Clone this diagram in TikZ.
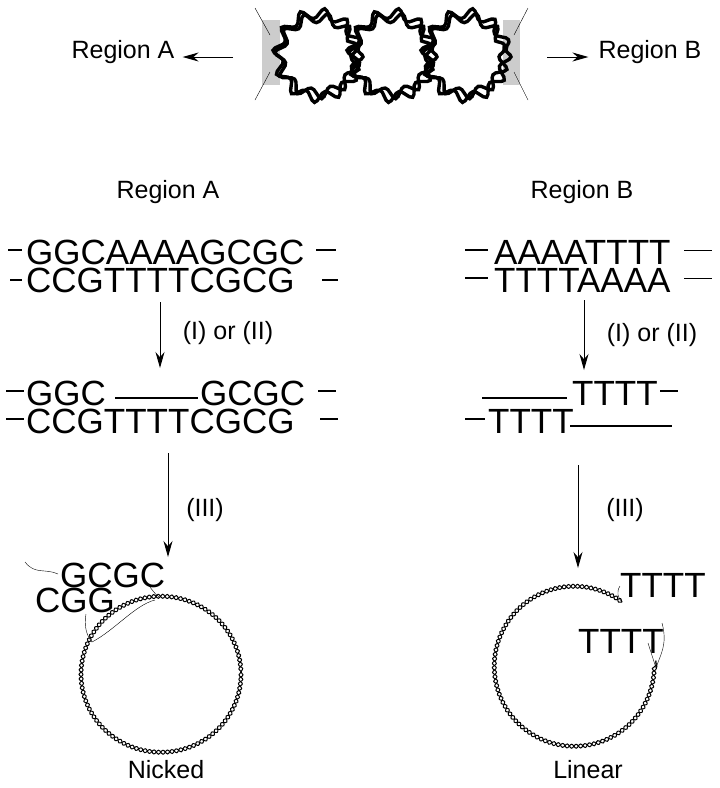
\documentclass[tikz,border=0pt]{standalone}
\usepackage{fontspec}
\setmainfont{Liberation Sans}
\usetikzlibrary{arrows.meta,decorations.pathmorphing,positioning}
\tikzset{
  seq/.style={font=\fontsize{35}{35}\selectfont, inner sep=0pt, anchor=base west},
  lbl/.style={font=\fontsize{25}{25}\selectfont, inner sep=0pt},
  cut/.style={-{Stealth[length=16pt,width=9pt]}, line width=1pt},
  strand/.style={line width=1.2pt},
  helix/.style={decorate, decoration={snake, segment length=9pt, amplitude=2pt}, line width=1pt},
  loop/.style={decorate, decoration={snake, segment length=22pt, amplitude=5pt}, line width=3.4pt}
}
\begin{document}
\begin{tikzpicture}[x=1pt,y=-1pt]
\useasboundingbox (0,0) rectangle (720,788);

% supercoiled plasmid
\fill[gray!40] (262,20) rectangle (280,85);
\fill[gray!40] (503,20) rectangle (520,85);
\draw[thin] (255,8) -- (270,35) (255,100) -- (270,72) (528,8) -- (514,35) (528,100) -- (514,72);
\foreach \cx in {318,392,466} {
  \draw[loop] (\cx,50) ellipse (40 and 42);
  \draw[loop, decoration={mirror}] (\cx,50) ellipse (38 and 38);
}
\node[lbl] (regA) at (123,52) {Region A};
\node[lbl] (regB) at (650,52) {Region B};
\coordinate (aS) at (233,57); \coordinate (bS) at (547,57);
\draw[cut] (aS) -- ([xshift=8pt]regA.east |- aS);
\draw[cut] (bS) -- ([xshift=-10pt]regB.west |- bS);

% region A
\node[lbl] (headA) at (168,192) {Region A};
\node[seq] (a1) at (26,264) {GGCAAAAGCGC};
\node[seq] (a2) at (26,292) {CCGTTTTCGCG};
\draw[strand] (8,250) -- (22,250) (316,250) -- (336,250)
              (10,280) -- (22,280) (322,280) -- (338,280);
\draw[cut] (160,302) coordinate (a0) -- (160,368) coordinate (a3);
\node[lbl] (stepA1) at (228,333) {(I) or (II)};
\node[seq] (b1) at (26,405) {GGC};
\node[seq] (b2) at (200,405) {GCGC};
\draw[strand] (6,391) -- (24,391) (115,398) -- (198,398) (318,391) -- (336,391);
\node[seq] (b3) at (26,433) {CCGTTTTCGCG};
\draw[strand] (6,419) -- (24,419) (320,419) -- (338,419);
\draw[cut] (168,453) coordinate (b0) -- (168,557);
\node[lbl] (stepA2) at (205,510) {(III)};

\draw[helix] (161,672) ellipse (80 and 78);
\draw[helix, decoration={mirror}] (161,672) ellipse (80 and 78);
\node[seq] (gcgc) at (60,587) {GCGC};
\node[seq] (cgg) at (35,612) {CGG};
\draw[thin] (25,562) .. controls (35,575) and (45,568) .. (58,574);
\draw[thin] (148,584) .. controls (152,590) and (155,594) .. (159,597);
\draw[thin] (86,614) .. controls (84,625) and (86,635) .. (92,642);
\draw[thin] (92,642) .. controls (115,630) and (135,605) .. (155,600);
\node[lbl] (nick) at (166,770) {Nicked};

% region B
\node[lbl] (headB) at (582,192) {Region B};
\node[seq] (c1) at (494,264) {AAAATTTT};
\node[seq] (c2) at (494,292) {TTTTAAAA};
\draw[strand] (465,250) -- (488,250) (465,278) -- (488,278);
\draw[thin] (684,250) -- (712,250) (684,278) -- (712,278);
\draw[cut] (584,300) coordinate (c0) -- (584,370);
\node[lbl] (stepB1) at (652,335) {(I) or (II)};
\node[seq] (d1) at (572,405) {TTTT};
\draw[strand] (482,398) -- (567,398) (660,391) -- (678,391);
\node[seq] (d2) at (488,433) {TTTT};
\draw[strand] (465,419) -- (485,419) (570,426) -- (672,426);
\draw[cut] (578,465) coordinate (d0) -- (578,568);
\node[lbl] (stepB2) at (625,510) {(III)};

\draw[helix] (622,602) arc (-55:-365:80 and 80);
\draw[helix, decoration={mirror}] (622,602) arc (-55:-365:80 and 80);
\node[seq] (t1) at (620,597) {TTTT};
\node[seq] (t2) at (578,653) {TTTT};
\draw[thin] (620,586) .. controls (616,592) and (618,598) .. (622,602);
\draw[thin] (662,623) .. controls (668,645) and (660,655) .. (656,668);
\draw[thin] (648,643) -- (656,668);
\node[lbl] (lin) at (588,770) {Linear};
\end{tikzpicture}
\end{document}
